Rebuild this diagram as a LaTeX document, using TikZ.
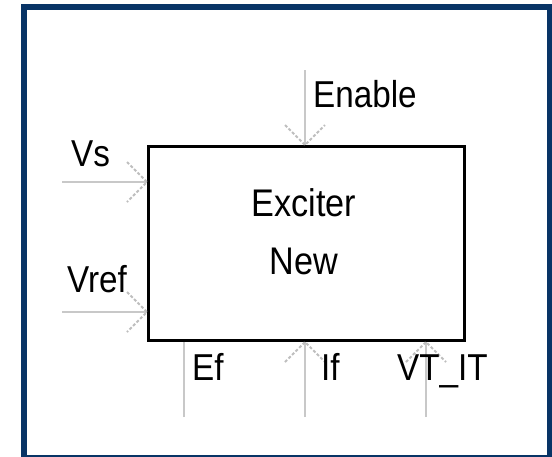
\documentclass[tikz,border=0pt]{standalone}
\usepackage{fontspec}
\setmainfont{Liberation Sans}
\usetikzlibrary{calc}
\definecolor{frameblue}{RGB}{8,52,102}
\definecolor{wiregray}{RGB}{200,200,200}
\definecolor{barbgray}{RGB}{190,190,190}
\newcommand{\pxtext}[1]{\scalebox{0.95}[1.07]{#1}}
\begin{document}
\begin{tikzpicture}[x=1pt,y=-1pt,
  wire/.style={line width=2.6pt, wiregray},
  barb/.style={line width=2pt, barbgray, dash pattern=on 3pt off 2pt},
  lbl/.style={anchor=base west, inner sep=0pt, font=\fontsize{35}{40}\selectfont},
  ctr/.style={anchor=base, inner sep=0pt, font=\fontsize{36}{40}\selectfont},
  blockbox/.style={draw=black, line width=3pt, fill=white, minimum width=316pt, minimum height=194pt, inner sep=0pt}]
\clip (0,0) rectangle (552,456);
\fill[white] (0,0) rectangle (552,456);
% frame
\draw[frameblue, line width=5.6pt] (23.8,7.2) rectangle (549.8,458);
% block
\node[blockbox, anchor=north west] (box) at (147,145) {};
% free ends
\coordinate (vs0) at (62,182);
\coordinate (vref0) at (62,312);
\coordinate (en0) at (305,70);
\coordinate (ef0) at (184,417);
\coordinate (if0) at (305,417);
\coordinate (vt0) at (426,417);
% tips on the block
\coordinate (vs1) at (box.west |- vs0);
\coordinate (vref1) at (box.west |- vref0);
\coordinate (en1) at (en0 |- box.north);
\coordinate (ef1) at (ef0 |- box.south);
\coordinate (if1) at (if0 |- box.south);
\coordinate (vt1) at (vt0 |- box.south);
% wires
\draw[wire] (vs0) -- (vs1);
\draw[wire] (vref0) -- (vref1);
\draw[wire] (en0) -- (en1);
\draw[wire] (ef0) -- (ef1);
\draw[wire] (if0) -- (if1);
\draw[wire] (vt0) -- (vt1);
% barbs
\draw[barb] ($(vs1)+(-20,-20)$) -- (vs1) -- ($(vs1)+(-20,20)$);
\draw[barb] ($(vref1)+(-20,-20)$) -- (vref1) -- ($(vref1)+(-20,20)$);
\draw[barb] ($(en1)+(-20,-20)$) -- (en1) -- ($(en1)+(20,-20)$);
\draw[barb] ($(if1)+(-20,20)$) -- (if1) -- ($(if1)+(20,20)$);
\draw[barb] ($(vt1)+(-20,20)$) -- (vt1) -- ($(vt1)+(20,20)$);
% labels
\node[lbl] (tEnable) at (313,107) {\pxtext{Enable}};
\node[lbl] (tVs) at (71,166) {\pxtext{Vs}};
\node[lbl] (tVref) at (67,292) {\pxtext{Vref}};
\node[lbl] (tEf) at (192,380) {\pxtext{Ef}};
\node[lbl] (tIf) at (321,380) {\pxtext{If}};
\node[lbl] (tVT) at (397,380) {\pxtext{VT\_IT}};
\node[ctr] (tExc) at (304,216) {\pxtext{Exciter}};
\node[ctr] (tNew) at (304,274) {\pxtext{New}};
\end{tikzpicture}
\end{document}
